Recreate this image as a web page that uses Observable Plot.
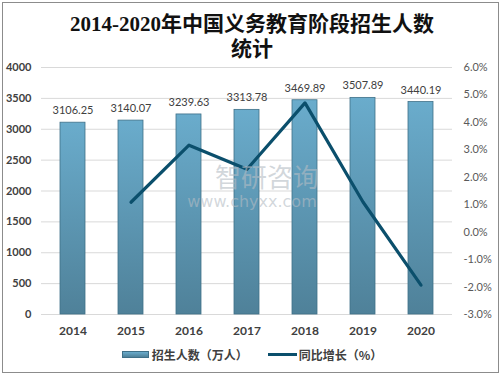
<!DOCTYPE html>
<html><head><meta charset="utf-8">
<script src="https://cdn.jsdelivr.net/npm/d3@7"></script>
<script src="https://cdn.jsdelivr.net/npm/@observablehq/plot@0.6"></script>
<style>
html,body{margin:0;padding:0;background:#fff;}
#wrap{position:relative;width:504px;height:378px;overflow:hidden;font-family:Lato,"Noto Sans CJK SC",sans-serif;}
#border{position:absolute;left:2px;top:2px;width:495px;height:369px;border:1px solid #8c8c8c;}
#title{position:absolute;left:0;top:12px;width:504px;text-align:center;font-family:"Liberation Serif","Noto Sans CJK SC",serif;font-size:21px;font-weight:bold;line-height:25px;color:#111;}
#chart{position:absolute;left:0;top:57px;}
#legend{position:absolute;left:0;top:346px;width:504px;display:flex;justify-content:center;align-items:center;font-family:"Noto Sans CJK SC",sans-serif;font-size:12px;font-weight:bold;color:#404040;}
.sw-bar{width:27px;height:7px;background:linear-gradient(#6aaccc,#4f8199);border:1px solid #3f7088;margin-right:3px;box-sizing:border-box;}
.sw-line{width:29px;height:3px;background:#0b4f6c;margin-left:20px;margin-right:2px;}
</style></head>
<body>
<div id="wrap">
  <div id="border"></div>
  <div id="title">2014-2020年中国义务教育阶段招生人数<br>统计</div>
  <div id="chart"></div>
  <div id="legend"><span class="sw-bar"></span><span>招生人数（万人）</span><span class="sw-line"></span><span>同比增长（%）</span></div>
</div>
<script>
const years = ["2014","2015","2016","2017","2018","2019","2020"];
const enrolment = [3106.25, 3140.07, 3239.63, 3313.78, 3469.89, 3507.89, 3440.19];
const growth = [null, 1.09, 3.17, 2.29, 4.71, 1.10, -1.93];
const leftTicks = [0, 500, 1000, 1500, 2000, 2500, 3000, 3500, 4000];
const rightTicks = [-3, -2, -1, 0, 1, 2, 3, 4, 5, 6];
const watermark = ["智研咨询", "www.chyxx.com"];

const leftMax = 4000, rMin = -3, rMax = 6;
const toLeft = g => (g - rMin) / (rMax - rMin) * leftMax;
const fromLeft = v => v / leftMax * (rMax - rMin) + rMin;

const bars = years.map((y, i) => ({year: y, value: enrolment[i]}));
const pts = years.map((y, i) => ({year: y, g: growth[i]})).filter(d => d.g != null);

const plot = Plot.plot({
  width: 504, height: 290,
  marginTop: 10, marginBottom: 33, marginLeft: 41, marginRight: 52,
  x: {domain: years, paddingInner: 0.57, paddingOuter: 0.285},
  y: {domain: [0, leftMax]},
  style: {fontFamily: "Lato, 'Noto Sans CJK SC', sans-serif", background: "transparent"},
  marks: [
    Plot.ruleY(leftTicks, {stroke: "#d9d9d9", strokeWidth: 1}),
    Plot.barY(bars, {x: "year", y: "value", fill: "url(#barGrad)", stroke: "#3f7088", strokeWidth: 0.8}),
    Plot.text(bars, {x: "year", y: "value", text: d => d.value.toFixed(2), dy: -12, fontSize: 11, fill: "#404040"}),
    Plot.lineY(pts, {x: "year", y: d => toLeft(d.g), stroke: "#0b4f6c", strokeWidth: 3.2}),
    Plot.text([watermark[0]], {frameAnchor: "middle", dx: 20, dy: -12, fontSize: 26, fill: "#b4bcc4", fillOpacity: 0.6, fontFamily: "'Noto Sans CJK SC', sans-serif", letterSpacing: 1}),
    Plot.text([watermark[1]], {frameAnchor: "middle", dx: 5, dy: 11, fontSize: 16, fill: "#b4bcc4", fillOpacity: 0.6, fontFamily: "'DejaVu Sans', sans-serif", letterSpacing: 0.5}),
    Plot.axisY(leftTicks, {anchor: "left", tickSize: 0, tickPadding: 10, fontSize: 11, fontWeight: "bold", fill: "#404040", tickFormat: d => String(d), label: null}),
    Plot.axisY(rightTicks.map(toLeft), {anchor: "right", tickSize: 0, tickPadding: 11, fontSize: 11, fill: "#595959", tickFormat: v => Math.round(fromLeft(v)).toFixed(1) + "%", label: null}),
    Plot.axisX({tickSize: 0, tickPadding: 12, fontSize: 12, fontWeight: "bold", fill: "#404040", label: null})
  ]
});

const defs = d3.select(plot).insert("defs", ":first-child");
const grad = defs.append("linearGradient").attr("id", "barGrad").attr("x1", 0).attr("y1", 0).attr("x2", 0).attr("y2", 1);
grad.append("stop").attr("offset", "0%").attr("stop-color", "#6aaccc");
grad.append("stop").attr("offset", "100%").attr("stop-color", "#4f8199");
document.getElementById("chart").appendChild(plot);
</script>
</body></html>
